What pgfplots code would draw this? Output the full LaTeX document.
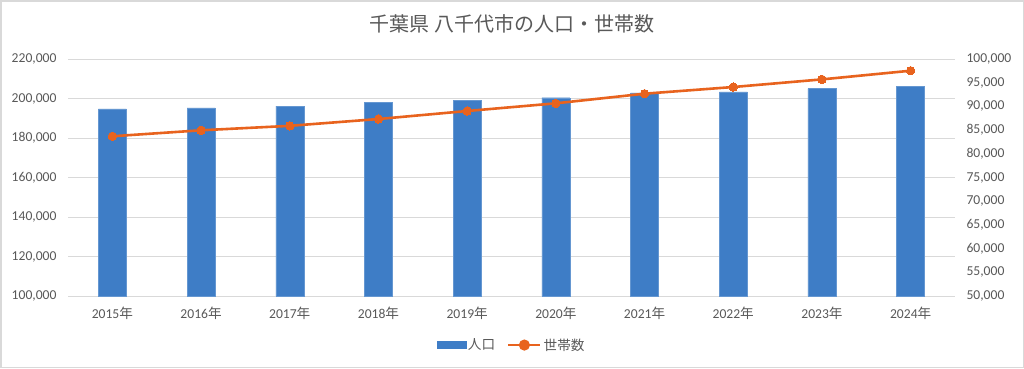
\documentclass[border=0pt]{standalone}
\usepackage{pgfplots}
\pgfplotsset{compat=1.18}
\usepackage{fontspec}
\setmainfont{Carlito}
\newfontfamily\cjk{Noto Sans CJK JP}
\definecolor{barblue}{HTML}{3E7DC6}
\definecolor{lineorange}{HTML}{E8631E}
\definecolor{gridgray}{HTML}{D9D9D9}
\definecolor{txtgray}{HTML}{595959}
\begin{document}
\begin{tikzpicture}
\fill[white] (0pt,0pt) rectangle (1024pt,368pt);
\draw[gridgray, line width=1.5pt] (0.75pt,0.75pt) rectangle (1023.25pt,367.25pt);
\node[anchor=center, text=txtgray, font=\cjk\fontsize{20}{23}\selectfont] at (512pt,344pt) {千葉県 八千代市の人口・世帯数};
\begin{axis}[at={(68pt,72pt)}, anchor=south west, scale only axis,
  width=887pt, height=237pt,
  xmin=-0.5, xmax=9.5, ymin=100000, ymax=220000, ytick distance=20000,
  xtick={0,...,9},
  xticklabels={2015\cjk{年},2016\cjk{年},2017\cjk{年},2018\cjk{年},2019\cjk{年},2020\cjk{年},2021\cjk{年},2022\cjk{年},2023\cjk{年},2024\cjk{年}},
  ymajorgrids, grid style={gridgray, line width=0.9pt},
  axis line style={draw=none}, major tick length=0pt,
  tick label style={text=txtgray, font=\fontsize{13.6}{15}\selectfont},
  scaled y ticks=false,
  yticklabel style={/pgf/number format/fixed, /pgf/number format/1000 sep={,}, /pgf/number format/assume math mode=true, xshift=-8pt},
  xticklabel style={yshift=-7pt},
  clip=false]
\addplot[ybar, bar width=28pt, fill=barblue, draw=barblue!80!white] coordinates {
(0,194700) (1,195300) (2,196100) (3,197900) (4,198900)
(5,200400) (6,202900) (7,203400) (8,205000) (9,206000)};
\end{axis}
\begin{axis}[at={(68pt,72pt)}, anchor=south west, scale only axis,
  width=887pt, height=237pt,
  xmin=-0.5, xmax=9.5, ymin=50000, ymax=100000, ytick distance=5000,
  axis y line*=right, axis x line=none,
  axis line style={draw=none}, major tick length=0pt,
  tick label style={text=txtgray, font=\fontsize{13.6}{15}\selectfont},
  scaled y ticks=false,
  yticklabel style={/pgf/number format/fixed, /pgf/number format/1000 sep={,}, /pgf/number format/assume math mode=true, xshift=8pt},
  clip=false,
  legend style={at={(0.5,-0.207)}, anchor=center, draw=none, fill=none,
    legend columns=2, text=txtgray, font=\cjk\fontsize{13.6}{15}\selectfont,
    /tikz/every even column/.append style={column sep=10pt}},
  ]
\addlegendimage{legend image code/.code={\fill[barblue] (0pt,-3.5pt) rectangle (29pt,3.5pt);}}
\addlegendentry{人口}
\addplot[lineorange, line width=2.6pt, mark=*, mark size=4.2pt,
  mark options={fill=lineorange, draw=lineorange, line width=0pt},
  legend image code/.code={\draw[lineorange, line width=2.6pt] (0pt,0pt) -- (32pt,0pt); \fill[lineorange] (16pt,0pt) circle (4.2pt);}] coordinates {
(0,83700) (1,84960) (2,85900) (3,87340) (4,89030)
(5,90650) (6,92680) (7,94090) (8,95700) (9,97530)};
\addlegendentry{世帯数}
\end{axis}
\end{tikzpicture}
\end{document}
